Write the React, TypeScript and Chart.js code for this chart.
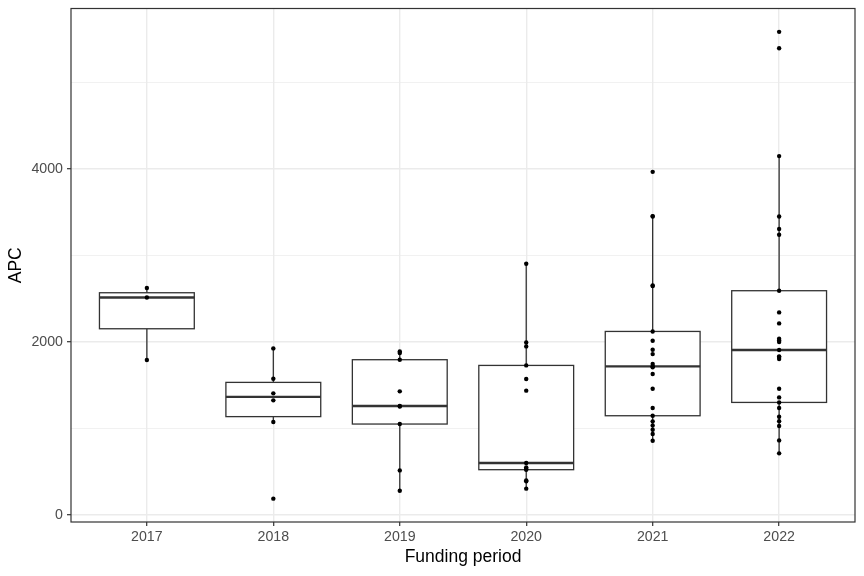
import { useEffect, useRef } from 'react';
import { Chart, registerables } from 'chart.js';

Chart.register(...registerables);

// ---- Data ----
const categories = ['2017', '2018', '2019', '2020', '2021', '2022'];

const apc2017 = [2621, 2512, 1788];
const apc2018 = [1923, 1572, 1403, 1322, 1071, 185];
const apc2019 = [1888, 1869, 1792, 1426, 1256, 1250, 1048, 512, 277];
const apc2020 = [2902, 1992, 1946, 1726, 1569, 1434, 598, 547, 528, 520, 397, 385, 301];
const apc2021 = [3965, 3453, 3448, 2651, 2645, 2119, 2011, 1907, 1857, 1742, 1715, 1705, 1626, 1456, 1233, 1144, 1079, 1032, 982, 932, 855];
const apc2022 = [5584, 5395, 4147, 3449, 3303, 3237, 2590, 2339, 2212, 2035, 2015, 1996, 1904, 1830, 1823, 1800, 1456, 1356, 1298, 1233, 1133, 1080, 1025, 859, 709];

const seriesByPeriod = [apc2017, apc2018, apc2019, apc2020, apc2021, apc2022];

const yGridValues = [0, 1000, 2000, 3000, 4000, 5000];
const yLabelValues = [0, 2000, 4000];

const FONT = '"Liberation Sans", Arial, Helvetica, sans-serif';

function quantile(sorted: number[], p: number) {
  const h = (sorted.length - 1) * p;
  const lo = Math.floor(h);
  const hi = Math.ceil(h);
  return sorted[lo] + (h - lo) * (sorted[hi] - sorted[lo]);
}

function boxStats(values: number[]) {
  const s = [...values].sort((a, b) => a - b);
  const q1 = quantile(s, 0.25);
  const med = quantile(s, 0.5);
  const q3 = quantile(s, 0.75);
  const iqr = q3 - q1;
  const lowFence = q1 - 1.5 * iqr;
  const highFence = q3 + 1.5 * iqr;
  const inside = s.filter((v) => v >= lowFence && v <= highFence);
  return { q1, med, q3, lo: inside[0], hi: inside[inside.length - 1] };
}

const boxPlugin = {
  id: 'ggBoxes',
  beforeDatasetsDraw(chart: any) {
    const { ctx, chartArea, scales } = chart;
    const xs = scales.x;
    const ys = scales.y;
    ctx.save();
    ctx.beginPath();
    ctx.rect(chartArea.left, chartArea.top, chartArea.right - chartArea.left, chartArea.bottom - chartArea.top);
    ctx.clip();
    seriesByPeriod.forEach((vals, i) => {
      const st = boxStats(vals);
      const cx = xs.getPixelForValue(i);
      const x0 = xs.getPixelForValue(i - 0.375);
      const x1 = xs.getPixelForValue(i + 0.375);
      const yq1 = ys.getPixelForValue(st.q1);
      const yq3 = ys.getPixelForValue(st.q3);
      const ymed = ys.getPixelForValue(st.med);
      const ylo = ys.getPixelForValue(st.lo);
      const yhi = ys.getPixelForValue(st.hi);
      ctx.strokeStyle = '#333333';
      ctx.lineWidth = 1.3;
      ctx.beginPath();
      ctx.moveTo(cx, yq3);
      ctx.lineTo(cx, yhi);
      ctx.moveTo(cx, yq1);
      ctx.lineTo(cx, ylo);
      ctx.stroke();
      ctx.fillStyle = '#ffffff';
      ctx.fillRect(x0, yq3, x1 - x0, yq1 - yq3);
      ctx.strokeRect(x0, yq3, x1 - x0, yq1 - yq3);
      ctx.lineWidth = 2.4;
      ctx.beginPath();
      ctx.moveTo(x0, ymed);
      ctx.lineTo(x1, ymed);
      ctx.stroke();
    });
    ctx.restore();
  },
  afterDraw(chart: any) {
    const { ctx, chartArea } = chart;
    ctx.save();
    ctx.strokeStyle = '#333333';
    ctx.lineWidth = 1.2;
    ctx.strokeRect(chartArea.left, chartArea.top, chartArea.right - chartArea.left, chartArea.bottom - chartArea.top);
    ctx.restore();
  },
};

export default function App() {
  const ref = useRef<HTMLCanvasElement>(null);

  useEffect(() => {
    if (!ref.current) return;
    const points: { x: number; y: number }[] = [];
    seriesByPeriod.forEach((vals, i) => vals.forEach((v) => points.push({ x: i, y: v })));

    const chart = new Chart(ref.current, {
      type: 'scatter',
      data: {
        datasets: [
          {
            data: points,
            pointRadius: 2.2,
            pointHoverRadius: 2.2,
            pointBackgroundColor: '#000000',
            pointBorderWidth: 0,
            showLine: false,
          },
        ],
      },
      options: {
        animation: false,
        responsive: false,
        maintainAspectRatio: false,
        events: [],
        layout: { padding: { left: 0, right: 9, top: 8.5, bottom: 0 } },
        plugins: { legend: { display: false }, tooltip: { enabled: false } },
        scales: {
          x: {
            type: 'linear',
            min: -0.6,
            max: 5.6,
            afterBuildTicks: (s: any) => {
              s.ticks = categories.map((_, i) => ({ value: i }));
            },
            afterFit: (s: any) => {
              s.height = 54;
              s.paddingLeft = 0;
              s.paddingRight = 0;
            },
            ticks: {
              callback: (v: any) => categories[v as number] ?? '',
              color: '#4d4d4d',
              font: { family: FONT, size: 14.2 },
              padding: 3,
              maxRotation: 0,
              autoSkip: false,
            },
            grid: {
              color: '#ebebeb',
              lineWidth: 1.4,
              tickLength: 4,
              tickColor: '#333333',
              tickWidth: 1.2,
            },
            border: { display: false },
            title: {
              display: true,
              text: 'Funding period',
              color: '#000000',
              font: { family: FONT, size: 17.5 },
              padding: { top: 0, bottom: 8 },
            },
          },
          y: {
            type: 'linear',
            min: -85,
            max: 5854,
            afterBuildTicks: (s: any) => {
              s.ticks = yGridValues.map((v) => ({ value: v }));
            },
            afterFit: (s: any) => {
              s.width = 71;
              s.paddingTop = 0;
              s.paddingBottom = 0;
            },
            ticks: {
              callback: (v: any) => (yLabelValues.includes(v as number) ? String(v) : ''),
              color: '#4d4d4d',
              font: { family: FONT, size: 14.2 },
              padding: 4,
            },
            grid: {
              color: '#ebebeb',
              lineWidth: (c: any) => (c.tick && yLabelValues.includes(c.tick.value) ? 1.4 : 0.7),
              tickLength: 4,
              tickColor: (c: any) => (c.tick && yLabelValues.includes(c.tick.value) ? '#333333' : 'rgba(0,0,0,0)'),
              tickWidth: 1.2,
            },
            border: { display: false },
            title: {
              display: true,
              text: 'APC',
              color: '#000000',
              font: { family: FONT, size: 17.5 },
              padding: { top: 6, bottom: 0 },
            },
          },
        },
      },
      plugins: [boxPlugin],
    } as any);
    return () => chart.destroy();
  }, []);

  return (
    <div style={{ position: 'absolute', left: 0, top: 0, width: 864, height: 576, background: '#ffffff' }}>
      <canvas ref={ref} width={864} height={576} style={{ display: 'block', width: 864, height: 576 }} />
    </div>
  );
}
